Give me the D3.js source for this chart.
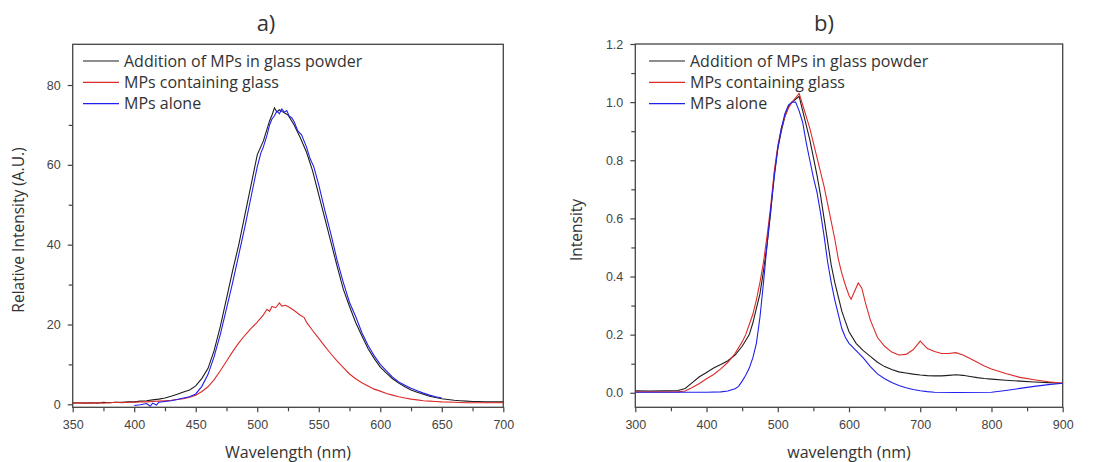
<!DOCTYPE html>
<html>
<head>
<meta charset="utf-8">
<script src="https://cdn.jsdelivr.net/npm/d3@7/dist/d3.min.js"></script>
<style>
  body { margin: 0; background: #fff; }
  .tick text { font-family: "Liberation Sans", Arial, sans-serif; font-size: 12.5px; fill: #444; }
  .tick line { stroke: #444; stroke-width: 1.2; }
  .lbl { font-family: "Open Sans", sans-serif; fill: #333; }
</style>
</head>
<body>
<svg id="chart" width="1102" height="462"></svg>
<script>
// legend names, shared by both panels
const seriesNames = ['Addition of MPs in glass powder', 'MPs containing glass', 'MPs alone'];
const seriesColors = ['#1e1e1e', '#dd2a2a', '#1f1fee'];

// panel a) - [wavelength nm, relative intensity]
const aBlack = [[350,0.3],[355,0.4],[360,0.3],[365,0.4],[370,0.3],[375,0.5],[380,0.4],[385,0.5],[390,0.5],[395,0.6],
  [400,0.6],[405,0.8],[410,0.9],[415,1.1],[420,1.3],[425,1.6],[430,2.0],[435,2.5],[440,3.1],[445,3.6],[450,4.6],
  [455,6.5],[460,9.0],[465,13.5],[470,19.5],[475,26.5],[480,33.5],[485,40],[490,47.5],[495,55],[500,62.5],[505,66],
  [510,71],[512,72.5],[514,74.3],[516,73.2],[518,73.8],[520,73.4],[525,72.5],[530,70.0],[535,66.8],[540,63.2],
  [545,58.5],[550,52.5],[555,46.5],[560,40.5],[565,34.5],[570,28.8],[575,24.5],[580,20.5],[585,17.2],[590,14.0],
  [595,11.5],[600,9.3],[605,7.8],[610,6.4],[615,5.3],[620,4.4],[625,3.6],[630,3.0],[635,2.5],[640,2.0],[645,1.7],
  [650,1.4],[655,1.2],[660,1.0],[665,0.9],[670,0.8],[675,0.7],[680,0.7],[685,0.6],[690,0.6],[695,0.6],[700,0.6]];
const aRed = [[350,0.3],[355,0.4],[360,0.3],[365,0.3],[370,0.4],[375,0.3],[380,0.4],[385,0.5],[390,0.4],[395,0.5],
  [400,0.5],[405,0.6],[410,0.6],[415,0.7],[420,0.8],[425,0.9],[430,1.0],[435,1.2],[440,1.4],[445,1.8],[450,2.3],
  [455,3.2],[460,4.4],[465,6.2],[470,8.4],[475,10.8],[480,13.2],[485,15.4],[490,17.3],[495,19.0],[500,20.6],
  [505,22.4],[508,23.8],[510,23.3],[512,24.5],[515,24.2],[518,25.4],[520,24.6],[523,24.8],[526,24.3],[530,23.5],
  [535,22.3],[538,21.8],[540,20.6],[545,18.5],[550,16.5],[555,14.5],[560,12.6],[565,10.8],[570,9.2],[575,7.6],
  [580,6.4],[585,5.4],[590,4.6],[595,3.8],[600,3.3],[605,2.7],[610,2.3],[615,1.9],[620,1.6],[625,1.3],[630,1.1],
  [635,0.9],[640,0.8],[645,0.7],[650,0.6],[660,0.5],[670,0.4],[680,0.4],[690,0.4],[700,0.4]];
const aBlue = [[400,-0.3],[405,-0.1],[410,0.2],[413,-0.5],[415,0.3],[418,-0.2],[420,0.5],[425,0.7],[430,0.9],
  [435,1.2],[440,1.6],[445,1.9],[450,2.6],[455,4.5],[460,7.5],[465,12],[470,17.5],[475,24],[480,30.5],[485,37.5],
  [490,44.5],[495,52],[500,59.5],[503,63],[505,64.5],[508,67.5],[510,70],[512,71.5],[514,72.3],[516,73.5],[518,72.8],
  [520,74],[522,73.2],[524,73.6],[526,72.2],[528,71.8],[530,70.8],[533,68.5],[536,67.5],[540,64.5],[543,61.5],
  [546,59.5],[550,55],[555,48.5],[560,42.5],[565,36],[570,30.5],[575,25.5],[580,22],[585,18],[590,14.8],[595,12.2],
  [600,10],[605,8.4],[610,6.8],[615,5.6],[620,4.8],[625,4.0],[630,3.4],[635,2.8],[640,2.3],[645,1.9],[650,1.6]];

// panel b) - [wavelength nm, normalised intensity]
const bBlack = [[300,0.007],[320,0.006],[340,0.007],[360,0.008],[370,0.015],[380,0.035],[390,0.055],[400,0.07],
  [410,0.085],[420,0.097],[430,0.11],[440,0.13],[450,0.16],[455,0.18],[460,0.2],[465,0.24],[470,0.29],[475,0.34],
  [480,0.42],[485,0.51],[490,0.62],[495,0.75],[500,0.84],[505,0.9],[510,0.95],[515,0.985],[520,1.0],[525,1.01],
  [530,1.02],[535,0.97],[540,0.92],[545,0.87],[550,0.81],[555,0.75],[560,0.68],[565,0.6],[570,0.52],[575,0.44],
  [580,0.38],[585,0.33],[590,0.28],[595,0.245],[600,0.21],[610,0.17],[620,0.145],[630,0.125],[640,0.105],[650,0.09],
  [660,0.08],[670,0.072],[680,0.068],[690,0.064],[700,0.061],[710,0.059],[720,0.058],[730,0.058],[740,0.06],
  [750,0.062],[760,0.06],[770,0.056],[780,0.052],[790,0.049],[800,0.047],[820,0.043],[840,0.04],[860,0.037],
  [880,0.035],[900,0.033]];
const bRed = [[300,0.003],[330,0.003],[360,0.003],[370,0.006],[380,0.018],[390,0.032],[400,0.048],[410,0.063],
  [420,0.082],[430,0.105],[440,0.135],[450,0.175],[455,0.2],[460,0.235],[465,0.27],[470,0.32],[475,0.38],[480,0.45],
  [485,0.54],[490,0.64],[495,0.76],[500,0.85],[505,0.91],[510,0.95],[515,0.98],[520,1.0],[525,1.015],[530,1.03],
  [535,0.99],[540,0.95],[545,0.91],[550,0.86],[555,0.81],[560,0.76],[565,0.71],[570,0.65],[575,0.59],[580,0.53],
  [585,0.46],[590,0.41],[595,0.37],[600,0.335],[603,0.322],[608,0.35],[613,0.378],[618,0.36],[623,0.31],[630,0.25],
  [640,0.19],[650,0.16],[660,0.14],[670,0.13],[680,0.132],[690,0.148],[700,0.178],[705,0.165],[710,0.152],
  [720,0.142],[730,0.135],[740,0.135],[750,0.138],[760,0.13],[770,0.118],[780,0.105],[790,0.092],[800,0.082],
  [820,0.066],[840,0.053],[860,0.045],[880,0.038],[900,0.033]];
const bBlue = [[300,0.002],[350,0.002],[400,0.002],[420,0.003],[430,0.006],[440,0.014],[445,0.022],[450,0.04],
  [455,0.06],[460,0.085],[465,0.12],[470,0.17],[475,0.26],[480,0.38],[485,0.51],[490,0.63],[495,0.74],[500,0.84],
  [505,0.91],[510,0.96],[515,0.99],[520,1.0],[525,1.0],[530,0.97],[535,0.93],[540,0.86],[545,0.8],[550,0.74],
  [555,0.69],[560,0.62],[565,0.54],[570,0.45],[575,0.38],[580,0.32],[585,0.27],[590,0.22],[595,0.19],[600,0.17],
  [610,0.145],[620,0.12],[630,0.09],[640,0.065],[650,0.048],[660,0.035],[670,0.025],[680,0.017],[690,0.011],
  [700,0.007],[710,0.004],[720,0.002],[750,0.001],[800,0.002],[820,0.008],[840,0.015],[860,0.022],[880,0.028],
  [900,0.033]];

// axis ticks
const aXTicks = [350, 400, 450, 500, 550, 600, 650, 700];
const aYTicks = [0, 20, 40, 60, 80];
const bXTicks = [300, 400, 500, 600, 700, 800, 900];
const bYTicks = [0, 0.2, 0.4, 0.6, 0.8, 1.0, 1.2];

const svg = d3.select('#chart');

function drawPanel(p) {
  const x = d3.scaleLinear().domain(p.xDomain).range([p.left, p.right]);
  const y = d3.scaleLinear().domain(p.yDomain).range([p.bottom, p.top]);
  const g = svg.append('g');

  // minor ticks halfway between the majors
  const mid = t => t.slice(1).map((v, i) => (v + t[i]) / 2);

  const xm = g.append('g').attr('transform', `translate(0,${p.bottom})`)
    .call(d3.axisBottom(x).tickValues(mid(p.xTicks)).tickSize(4).tickFormat(''));
  const xa = g.append('g').attr('transform', `translate(0,${p.bottom})`)
    .call(d3.axisBottom(x).tickValues(p.xTicks).tickSize(5).tickPadding(8).tickFormat(p.xFmt));
  const ym = g.append('g').attr('transform', `translate(${p.left},0)`)
    .call(d3.axisLeft(y).tickValues(mid(p.yTicks)).tickSize(4).tickFormat(''));
  const ya = g.append('g').attr('transform', `translate(${p.left},0)`)
    .call(d3.axisLeft(y).tickValues(p.yTicks).tickSize(5).tickPadding(7).tickFormat(p.yFmt));
  [xm, xa, ym, ya].forEach(a => a.select('.domain').remove());

  g.append('rect')
    .attr('x', p.left).attr('y', p.top)
    .attr('width', p.right - p.left).attr('height', p.bottom - p.top)
    .attr('fill', 'none').attr('stroke', '#444').attr('stroke-width', 1.3);

  const clipId = 'clip-' + p.name;
  g.append('clipPath').attr('id', clipId).append('rect')
    .attr('x', p.left).attr('y', p.top)
    .attr('width', p.right - p.left).attr('height', p.bottom - p.top);

  const line = d3.line().x(d => x(d[0])).y(d => y(d[1]));
  g.append('g').attr('clip-path', `url(#${clipId})`)
    .selectAll('path').data(p.series)
    .enter().append('path')
    .attr('d', d => line(d))
    .attr('fill', 'none')
    .attr('stroke', (d, i) => seriesColors[i])
    .attr('stroke-width', 1.1);

  // legend
  const leg = g.append('g');
  seriesNames.forEach((name, i) => {
    const ly = p.legY + i * 21.3;
    leg.append('line')
      .attr('x1', p.legX).attr('x2', p.legX + 36)
      .attr('y1', ly).attr('y2', ly)
      .attr('stroke', seriesColors[i]).attr('stroke-width', 1.2);
    leg.append('text').attr('class', 'lbl')
      .attr('x', p.legX + 41).attr('y', ly + 5.5)
      .attr('font-size', '16px')
      .text(name);
  });

  g.append('text').attr('class', 'lbl')
    .attr('x', p.titleX).attr('y', 31)
    .attr('text-anchor', 'middle').attr('font-size', '22px')
    .text(p.title);

  g.append('text').attr('class', 'lbl')
    .attr('x', (p.left + p.right) / 2).attr('y', 458)
    .attr('text-anchor', 'middle').attr('font-size', '16px')
    .text(p.xLabel);

  g.append('text').attr('class', 'lbl')
    .attr('transform', `translate(${p.yLabelX},230) rotate(-90)`)
    .attr('text-anchor', 'middle').attr('font-size', '15.5px')
    .text(p.yLabel);
}

drawPanel({
  name: 'a', title: 'a)', titleX: 266,
  left: 72.7, right: 503.3, top: 44.3, bottom: 407.3,
  xDomain: [350, 700], yDomain: [-0.75, 90.2],
  xTicks: aXTicks, yTicks: aYTicks,
  xFmt: d3.format('d'), yFmt: d3.format('d'),
  series: [aBlack, aRed, aBlue],
  legX: 83, legY: 61,
  xLabel: 'Wavelength (nm)', yLabel: 'Relative Intensity (A.U.)', yLabelX: 24
});

drawPanel({
  name: 'b', title: 'b)', titleX: 824,
  left: 635.3, right: 1062.7, top: 44, bottom: 407.3,
  xDomain: [300, 900], yDomain: [-0.05, 1.2],
  xTicks: bXTicks, yTicks: bYTicks,
  xFmt: d3.format('d'), yFmt: d3.format('.1f'),
  series: [bBlack, bRed, bBlue],
  legX: 649, legY: 61,
  xLabel: 'wavelength (nm)', yLabel: 'Intensity', yLabelX: 582
});
</script>
</body>
</html>
